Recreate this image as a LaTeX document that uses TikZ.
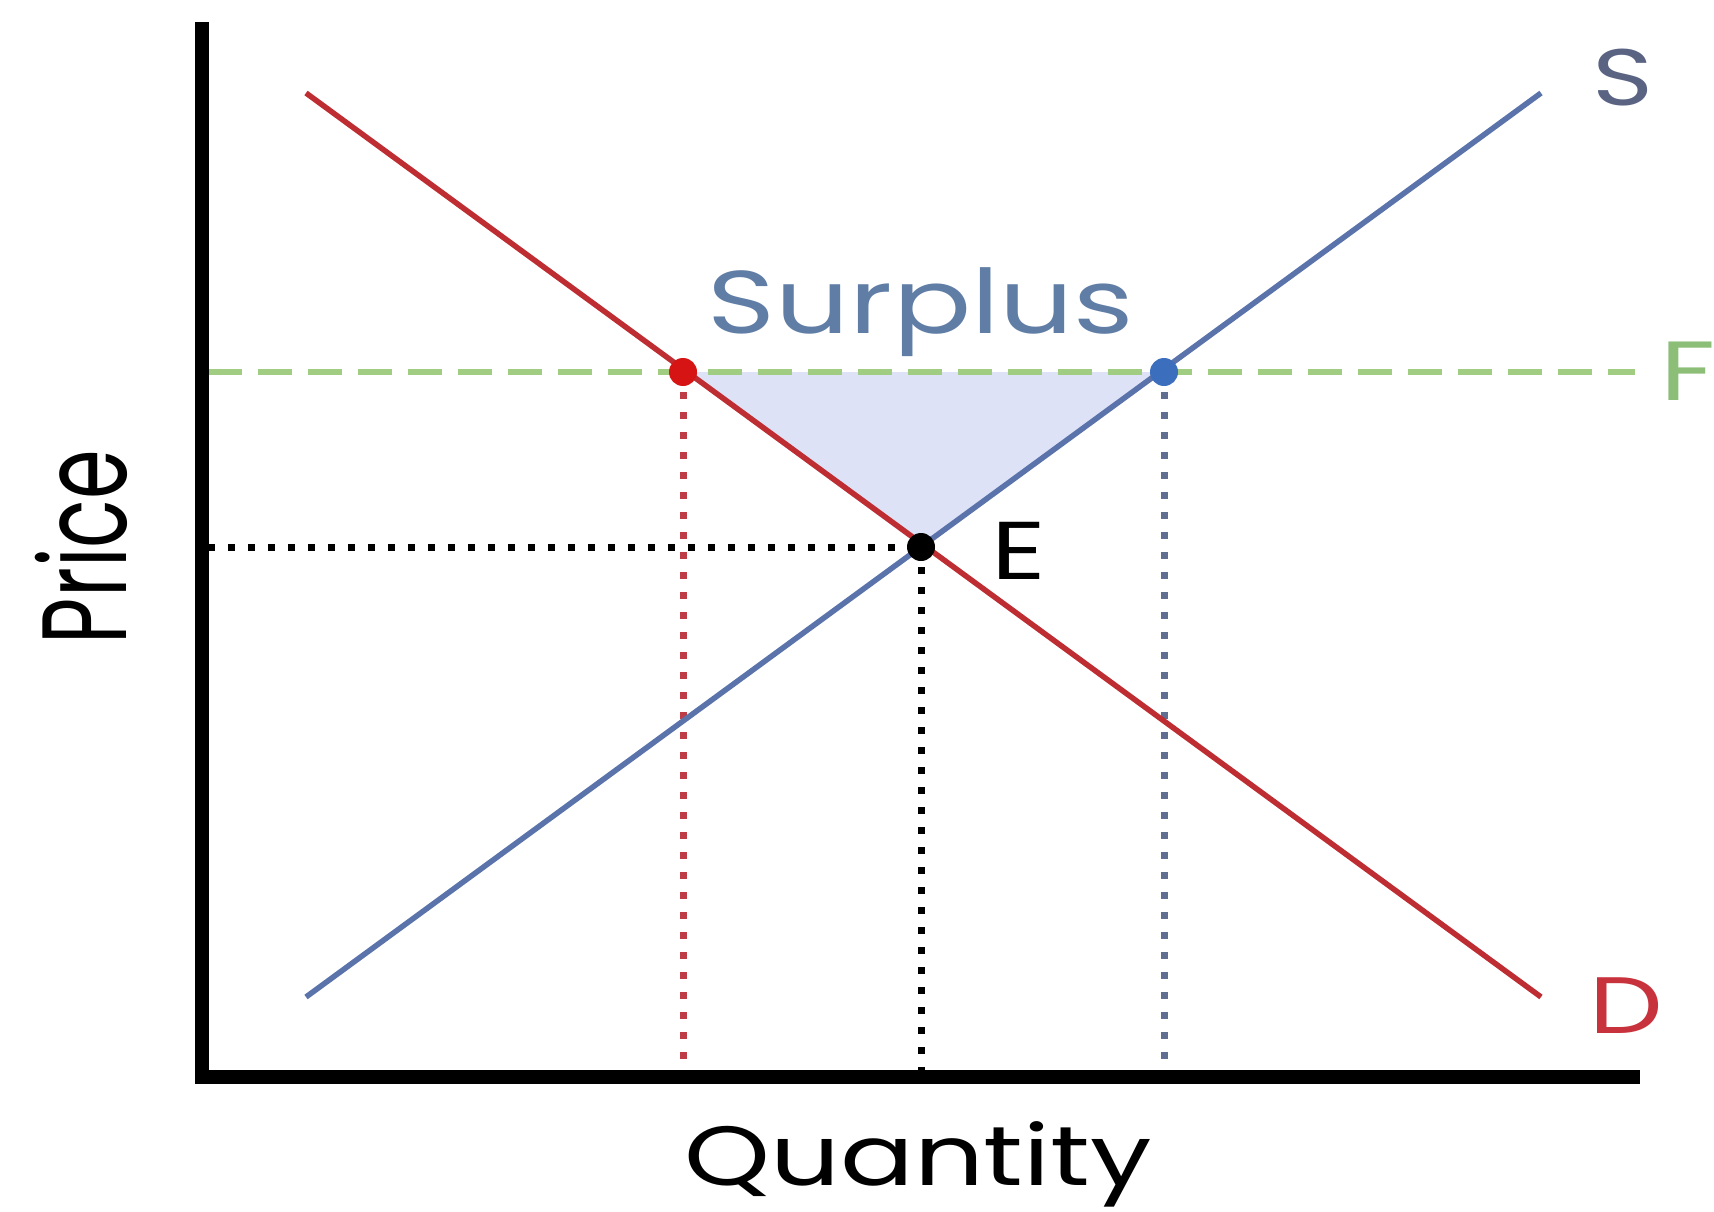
\documentclass[tikz,border=0pt]{standalone}
\usepackage{fontspec}
\setmainfont{Poppins}
\definecolor{demandc}{RGB}{190,45,50}
\definecolor{supplyc}{RGB}{90,115,170}
\definecolor{reddot}{RGB}{215,20,20}
\definecolor{bluedot}{RGB}{60,110,190}
\definecolor{greenc}{RGB}{160,205,130}
\definecolor{surplusfill}{RGB}{222,226,246}
\definecolor{surplustext}{RGB}{95,125,165}
\definecolor{slabel}{RGB}{90,100,130}
\definecolor{dlabel}{RGB}{200,50,60}
\definecolor{flabel}{RGB}{140,190,120}
\definecolor{reddotted}{RGB}{190,60,70}
\definecolor{bluedotted}{RGB}{95,110,145}
\begin{document}
\begin{tikzpicture}[x=1pt,y=-1pt,
  axisline/.style={line width=14pt,black},
  curve/.style={line width=5.5pt},
  dotline/.style={line width=7pt,dash pattern=on 7pt off 13pt},
  pricefloor/.style={line width=6pt,greenc,dash pattern=on 34pt off 16pt},
  ptdot/.style={circle,inner sep=0pt,minimum size=28pt},
  lbl/.style={inner sep=0pt,anchor=base}
]
\useasboundingbox (0,0) rectangle (1714,1212);
% coordinates
\coordinate (ytop) at (202,22);
\coordinate (orig) at (202,1077);
\coordinate (xend) at (1640,1077);
\coordinate (d1) at (306,93);
\coordinate (d2) at (1541,997);
\coordinate (s1) at (306,997);
\coordinate (s2) at (1541,93);
\coordinate (fl) at (208,372);
\coordinate (fr) at (1635,372);
\coordinate (pl) at (208,547);
\coordinate (qa) at (683,1070);
\coordinate (qe) at (921,1070);
\coordinate (qb) at (1164,1070);
\coordinate (pa) at (683,372);
\coordinate (pb) at (1164,372);
\coordinate (pe) at (921,547);
% surplus triangle
\fill[surplusfill] (pa) -- (pb) -- (pe) -- cycle;
% dotted guides
\draw[dotline,reddotted] (pa) -- (qa);
\draw[dotline,black] (pe) -- (qe);
\draw[dotline,bluedotted] (pb) -- (qb);
\draw[dotline,black] (pl) -- (pe);
% price floor
\draw[pricefloor] (fl) -- (fr);
% curves
\draw[curve,supplyc] (s1) -- (s2);
\draw[curve,demandc] (d1) -- (d2);
% axes
\draw[axisline] (ytop) -- (orig) -- (xend);
% dots
\node[ptdot,fill=reddot] (ra) at (pa) {};
\node[ptdot,fill=bluedot] (rb) at (pb) {};
\node[ptdot,fill=black] (re) at (pe) {};
% labels
\node[lbl,text=surplustext] (tsur) at (921,333) {\scalebox{1.3}[1]{\fontsize{89}{89}\selectfont Surplus}};
\node[lbl,text=slabel] (tS) at (1623,106) {\scalebox{1.3}[1]{\fontsize{80}{80}\selectfont S}};
\node[lbl,text=black] (tE) at (1019,579) {\scalebox{1.3}[1]{\fontsize{82}{82}\selectfont E}};
\node[lbl,text=dlabel] (tD) at (1626,1033) {\scalebox{1.3}[1]{\fontsize{80}{80}\selectfont D}};
\node[lbl,text=flabel,anchor=base west] (tF) at (1660,400) {\scalebox{1.3}[1]{\fontsize{84}{84}\selectfont F}};
\node[lbl,text=black] (tQ) at (918,1185) {\scalebox{1.3}[1]{\fontsize{84}{84}\selectfont Quantity}};
\node[lbl,text=black,rotate=90] (tP) at (126,547) {\scalebox{1}[1.5]{\fontsize{80}{80}\selectfont Price}};
\end{tikzpicture}
\end{document}
